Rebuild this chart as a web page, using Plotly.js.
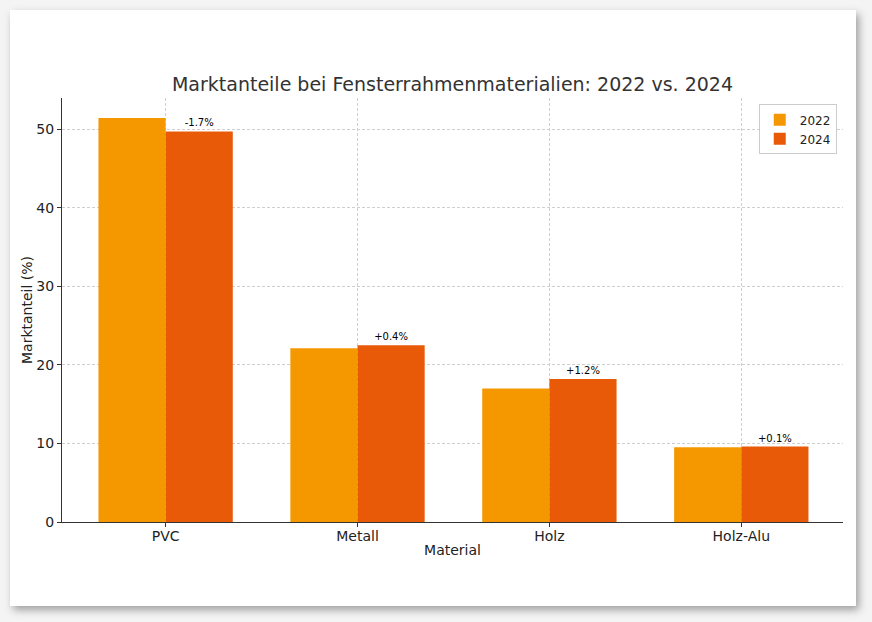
<!DOCTYPE html>
<html>
<head>
<meta charset="utf-8">
<script src="https://cdn.plot.ly/plotly-3.0.1.min.js"></script>
<style>
  html, body { margin: 0; padding: 0; background: #f4f4f4; }
  #card {
    position: absolute; left: 10px; top: 10px; width: 846px; height: 596px;
    background: #fff; box-shadow: 3px 4px 8px rgba(0,0,0,0.35);
  }
  #chart { position: absolute; left: 0; top: 0; width: 872px; height: 622px; }
</style>
</head>
<body>
<div id="card"></div>
<div id="chart"></div>
<script>
// Marktanteile in Prozent
var materials = ['PVC', 'Metall', 'Holz', 'Holz-Alu'];
var share2022 = [51.4, 22.1, 17.0, 9.5];
var share2024 = [49.7, 22.5, 18.2, 9.6];

var diffLabels = share2024.map(function (v, i) {
  var d = Math.round((v - share2022[i]) * 10) / 10;
  return (d > 0 ? '+' : '') + d.toFixed(1) + '%';
});

var font = 'DejaVu Sans, sans-serif';

var t22 = {
  x: materials, y: share2022, type: 'bar', name: '2022',
  marker: { color: '#f59800' }
};
var t24 = {
  x: materials, y: share2024, type: 'bar', name: '2024',
  marker: { color: '#e95a08' },
  text: diffLabels, textposition: 'outside', cliponaxis: false,
  textfont: { family: font, size: 10, color: '#000' }
};

var layout = {
  width: 872, height: 622,
  margin: { l: 62, r: 29, t: 98, b: 100 },
  paper_bgcolor: 'rgba(0,0,0,0)',
  plot_bgcolor: 'rgba(0,0,0,0)',
  font: { family: font, color: '#222' },
  barmode: 'group', bargap: 0.3, bargroupgap: 0,
  title: {
    text: 'Marktanteile bei Fensterrahmenmaterialien: 2022 vs. 2024',
    font: { family: font, size: 19, color: '#333' },
    xref: 'paper', x: 0.5, xanchor: 'center', y: 0.8645, yanchor: 'middle'
  },
  xaxis: {
    title: { text: 'Material', font: { size: 14 }, standoff: 2 },
    range: [-0.54, 3.53],
    showline: true, linecolor: '#333', linewidth: 1.3,
    ticks: 'outside', ticklen: 4, tickcolor: '#333', ticklabelstandoff: -3,
    showgrid: true, gridcolor: '#cfcfcf', griddash: '3px,2px', gridwidth: 1,
    tickfont: { size: 14 }
  },
  yaxis: {
    title: { text: 'Marktanteil (%)', font: { size: 14 }, standoff: 0 },
    range: [0, 53.95], tickvals: [0, 10, 20, 30, 40, 50],
    showline: true, linecolor: '#333', linewidth: 1.3,
    ticks: 'outside', ticklen: 4, tickcolor: '#333',
    showgrid: true, gridcolor: '#cfcfcf', griddash: '3px,2px', gridwidth: 1,
    zeroline: false, tickfont: { size: 14 }
  },
  legend: {
    x: 0.992, xanchor: 'right', y: 0.985, yanchor: 'top',
    bgcolor: '#fff', bordercolor: '#ccc', borderwidth: 1,
    font: { size: 12 }, tracegroupgap: 0
  },
  showlegend: true
};

Plotly.newPlot(document.getElementById('chart'), [t22, t24], layout, { displayModeBar: false });
</script>
</body>
</html>
